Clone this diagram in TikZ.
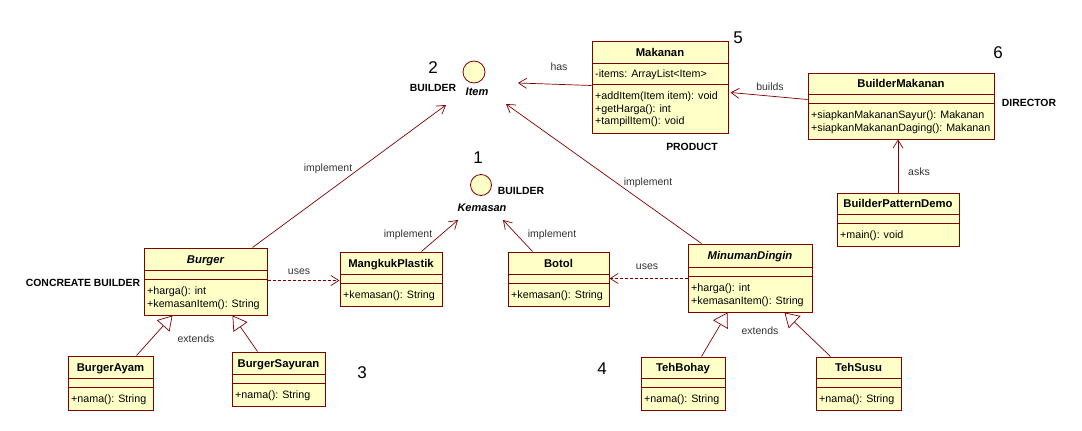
\documentclass[tikz,border=0pt]{standalone}
\usepackage{fontspec}
\setmainfont{Liberation Sans}
\usetikzlibrary{arrows.meta,calc}
\definecolor{umlred}{HTML}{800000}
\definecolor{umlfill}{HTML}{FFFFC8}
\definecolor{lbl}{HTML}{333333}
\tikzset{
  classbox/.style={draw=umlred, fill=umlfill, line width=1pt, inner sep=0pt, rectangle},
  classline/.style={draw=umlred, line width=1pt},
  titletext/.style={anchor=base, inner sep=0pt, font=\fontsize{11.3}{13}\selectfont\bfseries},
  optext/.style={anchor=base west, inner sep=0pt, font=\fontsize{10.7}{12}\selectfont},
  numtext/.style={inner sep=0pt, font=\fontsize{17}{20}\selectfont},
  rolelbl/.style={inner sep=0pt, font=\fontsize{10.4}{12}\selectfont\bfseries},
  conlbl/.style={inner sep=0pt, text=lbl, font=\fontsize{10.5}{12}\selectfont},
  iface/.style={circle, draw=umlred, fill=umlfill, line width=0.8pt, inner sep=0pt},
  ifacename/.style={inner sep=0pt, font=\fontsize{11}{13}\selectfont\bfseries\itshape},
  conn/.style={draw=umlred, line width=0.7pt},
  openv/.style={conn, -{Straight Barb[length=8pt,width=10pt]}},
  realize/.style={conn, -{Straight Barb[length=8pt,width=10pt]}},
  depend/.style={conn, dashed, dash pattern=on 3pt off 2pt, -{Straight Barb[length=8pt,width=10pt]}},
  inherit/.style={conn, -{Triangle[open, length=14pt, width=17pt, fill=white]}},
}
\newcommand\umlclass[8]{%
  \node[classbox, minimum width={(#4-#2)*1pt}, minimum height={(#5-#3)*1pt}] (#1) at ({(#2+#4)/2},{(#3+#5)/2}) {};
  \draw[classline] (#2,#6) -- (#4,#6) (#2,#7) -- (#4,#7);
  \node[titletext] (#1-title) at ({(#2+#4)/2},{(#3+#6)/2+4.2}) {#8};
}
\newcommand\umlops[4]{% name, left, attr bottom, list
  \foreach \op [count=\k] in {#4} {\node[optext] (#1-op\k) at ({#2+3},{#3+3+12.5*\k}) {\op};}
}
\begin{document}
\begin{tikzpicture}[x=1pt,y=-1pt]
\useasboundingbox[fill=white] (0,0) rectangle (1082,431);

% classes
\umlclass{makanan}{592}{41}{728}{133}{63}{84}{Makanan}
\node[optext] (makanan-attr) at (595,77.5) {-items: ArrayList<Item>};
\umlops{makanan}{592}{84}{+addItem(Item item): void,+getHarga(): int,+tampilItem(): void}

\umlclass{bm}{808}{73}{994}{139}{94}{103}{BuilderMakanan}
\umlops{bm}{808}{103}{+siapkanMakananSayur(): Makanan,+siapkanMakananDaging(): Makanan}

\umlclass{bpd}{837}{193}{959}{246}{214}{223}{BuilderPatternDemo}
\umlops{bpd}{837}{223}{+main(): void}

\umlclass{burger}{144}{248}{267}{315}{270}{279}{\itshape Burger}
\umlops{burger}{144}{279}{+harga(): int,+kemasanItem(): String}

\umlclass{mangkuk}{340}{252}{442}{306}{274}{283}{MangkukPlastik}
\umlops{mangkuk}{340}{283}{+kemasan(): String}

\umlclass{botol}{508}{252}{609}{306}{274}{283}{Botol}
\umlops{botol}{508}{283}{+kemasan(): String}

\umlclass{minuman}{688}{244}{812}{312}{267}{276}{\itshape MinumanDingin}
\umlops{minuman}{688}{276}{+harga(): int,+kemasanItem(): String}

\umlclass{burgerayam}{68}{356}{153}{410}{378}{387}{BurgerAyam}
\umlops{burgerayam}{68}{387}{+nama(): String}

\umlclass{burgersayuran}{232}{352}{325}{406}{374}{383}{BurgerSayuran}
\umlops{burgersayuran}{232}{383}{+nama(): String}

\umlclass{tehbohay}{641}{357}{725}{410}{378}{387}{TehBohay}
\umlops{tehbohay}{641}{387}{+nama(): String}

\umlclass{tehsusu}{816}{357}{901}{410}{378}{387}{TehSusu}
\umlops{tehsusu}{816}{387}{+nama(): String}

% interfaces
\node[iface, minimum size=22pt] (item) at (474,72) {};
\node[ifacename] (itemname) at (477,92) {Item};
\node[iface, minimum size=21pt] (kemasan) at (481,185) {};
\node[ifacename] (kemname) at (482,208) {Kemasan};

% numbers
\node[numtext] (n5) at (738,38) {5};
\node[numtext] (n6) at (998,53) {6};
\node[numtext] (n2) at (433,68) {2};
\node[numtext] (n1) at (478,158) {1};
\node[numtext] (n3) at (362,373) {3};
\node[numtext] (n4) at (602,369) {4};

% role labels
\node[rolelbl] (r1) at (433,88) {BUILDER};
\node[rolelbl] (r2) at (521,191) {BUILDER};
\node[rolelbl] (r3) at (692,147) {PRODUCT};
\node[rolelbl] (r4) at (1029,103) {DIRECTOR};
\node[rolelbl] (r5) at (83,283) {CONCREATE BUILDER};

% connectors
\draw[openv] ($(makanan.north west)+(0,45)$) -- ($(itemname.center)+(41,-9)$);
\draw[openv] ($(bm.north west)+(0,27)$) -- ($(makanan.north east)+(2,52)$);
\draw[openv] (bpd.north) -- (bpd.north |- bm.south);
\draw[realize] ($(burger.north west)+(109,0)$) -- ($(itemname.center)+(-31,13)$);
\draw[realize] ($(minuman.north west)+(14,0)$) -- ($(itemname.center)+(29,12)$);
\draw[realize] ($(mangkuk.north west)+(82,0)$) -- ($(kemname.center)+(-24,12)$);
\draw[realize] ($(botol.north west)+(25,0)$) -- ($(kemname.center)+(21,12)$);
\draw[depend] ($(burger.north east)+(0,33)$) -- ($(mangkuk.north west)+(0,29)$);
\draw[depend] ($(minuman.north west)+(0,35)$) -- ($(botol.north east)+(0,27)$);
\draw[inherit] ($(burgerayam.north west)+(69,0)$) -- ($(burger.south west)+(29,0)$);
\draw[inherit] ($(burgersayuran.north west)+(26,0)$) -- ($(burger.south west)+(89,0)$);
\draw[inherit] ($(tehbohay.north west)+(61,0)$) -- ($(minuman.south west)+(40,0)$);
\draw[inherit] ($(tehsusu.north west)+(15,0)$) -- ($(minuman.south west)+(97,0)$);

% connector labels
\node[conlbl] (l-has) at (559,67) {has};
\node[conlbl] (l-builds) at (770,87) {builds};
\node[conlbl] (l-asks) at (919,172) {asks};
\node[conlbl] (l-imp1) at (328,169) {implement};
\node[conlbl] (l-imp2) at (648,183) {implement};
\node[conlbl] (l-imp3) at (408,235) {implement};
\node[conlbl] (l-imp4) at (552,235) {implement};
\node[conlbl] (l-uses1) at (299,272) {uses};
\node[conlbl] (l-uses2) at (647,267) {uses};
\node[conlbl] (l-ext1) at (196,339) {extends};
\node[conlbl] (l-ext2) at (760,331) {extends};
\end{tikzpicture}
\end{document}
